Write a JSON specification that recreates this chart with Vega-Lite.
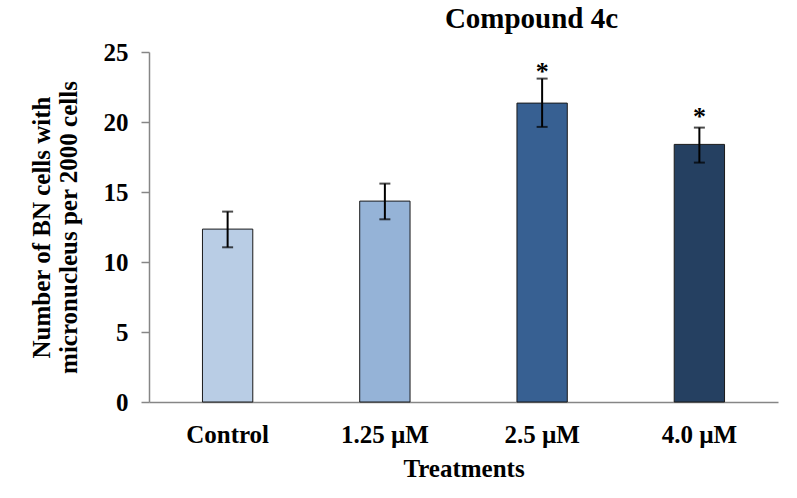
{
  "$schema": "https://vega.github.io/schema/vega-lite/v6.json",
  "description": "Number of BN cells with micronucleus per 2000 cells by treatment, compound 4c.",
  "width": 629,
  "height": 350,
  "autosize": {"type": "none"},
  "padding": {"left": 149, "top": 52, "right": 19, "bottom": 96},
  "title": {
    "text": "Compound 4c",
    "anchor": "middle",
    "dx": 68,
    "offset": 6,
    "font": "Liberation Serif",
    "fontSize": 29,
    "fontWeight": "bold",
    "color": "#000000"
  },
  "data": {
    "values": [
      {"treatment": "Control", "mean": 12.35, "lo": 11.05, "hi": 13.6, "star": null},
      {"treatment": "1.25 µM", "mean": 14.35, "lo": 13.05, "hi": 15.6, "star": null},
      {"treatment": "2.5 µM", "mean": 21.35, "lo": 19.65, "hi": 23.1, "star": 24.0},
      {"treatment": "4.0 µM", "mean": 18.4, "lo": 17.1, "hi": 19.6, "star": 20.8}
    ]
  },
  "encoding": {
    "x": {
      "field": "treatment",
      "type": "nominal",
      "sort": null,
      "scale": {"paddingInner": 0.68, "paddingOuter": 0.34},
      "axis": {
        "title": "Treatments",
        "labelAngle": 0,
        "ticks": false,
        "labelPadding": 20,
        "titlePadding": 9,
        "domainColor": "#868686",
        "domainWidth": 1.5
      }
    }
  },
  "layer": [
    {
      "mark": {"type": "bar", "stroke": "#1a1a1a", "strokeWidth": 1},
      "encoding": {
        "y": {
          "field": "mean",
          "type": "quantitative",
          "scale": {"domain": [0, 25], "nice": false},
          "axis": {
            "title": ["Number of BN cells with", "micronucleus per 2000 cells"],
            "values": [0, 5, 10, 15, 20, 25],
            "grid": false,
            "tickSize": 8,
            "labelPadding": 13,
            "titlePadding": 22,
            "domainColor": "#868686",
            "domainWidth": 1.5,
            "tickColor": "#868686",
            "tickWidth": 1.5
          }
        },
        "color": {
          "field": "treatment",
          "type": "nominal",
          "sort": null,
          "scale": {"range": ["#B9CDE5", "#95B3D7", "#376092", "#254061"]},
          "legend": null
        }
      }
    },
    {
      "mark": {"type": "rule", "color": "#000000", "strokeWidth": 2},
      "encoding": {
        "y": {"field": "lo", "type": "quantitative"},
        "y2": {"field": "hi"}
      }
    },
    {
      "mark": {"type": "tick", "color": "#000000", "thickness": 2, "size": 11},
      "encoding": {"y": {"field": "lo", "type": "quantitative"}}
    },
    {
      "mark": {"type": "tick", "color": "#000000", "thickness": 2, "size": 11},
      "encoding": {"y": {"field": "hi", "type": "quantitative"}}
    },
    {
      "transform": [{"filter": "datum.star != null"}],
      "mark": {
        "type": "text",
        "text": "*",
        "font": "Liberation Serif",
        "fontSize": 26,
        "fontWeight": "bold",
        "baseline": "middle",
        "dy": 6,
        "color": "#000000"
      },
      "encoding": {"y": {"field": "star", "type": "quantitative"}}
    }
  ],
  "config": {
    "view": {"stroke": null},
    "font": "Liberation Serif",
    "axis": {
      "labelFont": "Liberation Serif",
      "labelFontSize": 25,
      "labelFontWeight": "bold",
      "labelColor": "#000000",
      "titleFont": "Liberation Serif",
      "titleFontSize": 25,
      "titleFontWeight": "bold",
      "titleColor": "#000000"
    }
  }
}
